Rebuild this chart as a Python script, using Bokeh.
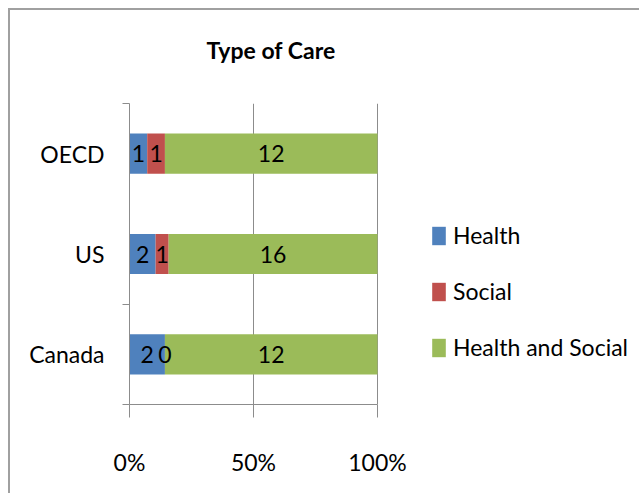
from bokeh.plotting import figure
from bokeh.models import FixedTicker, NumeralTickFormatter, Legend, LegendItem, ColumnDataSource, Title
from bokeh.core.properties import value
from bokeh.embed import file_html
from bokeh.resources import INLINE

# ---- data ----
categories = ["Canada", "US", "OECD"]
series = ["Health", "Social", "Health and Social"]
health = [2, 2, 1]
social = [0, 1, 1]
health_social = [12, 16, 12]
colors = ["#4F81BD", "#C0504D", "#9BBB59"]
x_ticks = [0, 0.5, 1.0]
title_text = "Type of Care"

FONT = "Lato"
GRAY = "#8c8c8c"
FS = "23px"

totals = [h + s + hs for h, s, hs in zip(health, social, health_social)]
ypos = [i + 0.5 for i in range(len(categories))]
frac = {
    "Health": [v / t for v, t in zip(health, totals)],
    "Social": [v / t for v, t in zip(social, totals)],
    "Health and Social": [v / t for v, t in zip(health_social, totals)],
}
raw = {"Health": health, "Social": social, "Health and Social": health_social}

# layout: plot area 0..100% is 248 px wide; the frame continues to the right to hold the legend
W, H = 631, 485
LEFT, RIGHT, TOP, BOTTOM = 119, 8, 93, 91
x_end = (W - LEFT - RIGHT) / 248.0

p = figure(width=W, height=H, output_backend="svg", toolbar_location=None,
           x_range=(0, x_end), y_range=(0, len(categories)),
           min_border_left=LEFT, min_border_top=TOP, min_border_bottom=BOTTOM, min_border_right=RIGHT)
p.styles = {"margin-left": "8px", "margin-top": "8px",
            "border-top": "2px solid #a0a0a0", "border-left": "2px solid #a0a0a0"}
p.outline_line_color = None
p.background_fill_color = "white"
p.border_fill_color = "white"

src = ColumnDataSource(dict(y=ypos, **frac))
renderers = p.hbar_stack(series, y="y", height=0.4, color=colors, source=src, line_color=None)

# data labels
left = [0.0] * len(categories)
for s in series:
    f = frac[s]
    cx = [l + w / 2 for l, w in zip(left, f)]
    p.text(x=cx, y=ypos, text=[str(v) for v in raw[s]], text_align="center",
           text_baseline="middle", text_font=value(FONT), text_font_size=FS,
           text_color="black")
    left = [l + w for l, w in zip(left, f)]

# visible title (outermost slot)
p.title.text = title_text
p.title.align = "left"
p.title.offset = 77
p.title.text_font = FONT
p.title.text_font_size = "23px"
p.title.text_font_style = "bold"
p.title.text_color = "black"
p.title.standoff = 0
# white-on-white spacer between the frame and the title
p.add_layout(Title(text=".", text_font_size="10px", text_color="white", standoff=30), "above")

# x axis
xa = p.xaxis[0]
xa.bounds = (0, 1)
xa.ticker = FixedTicker(ticks=x_ticks)
xa.formatter = NumeralTickFormatter(format="0%")
xa.axis_line_color = GRAY
xa.major_tick_line_color = GRAY
xa.major_tick_in = 0
xa.major_tick_out = 13
xa.minor_tick_line_color = None
xa.major_label_standoff = 30
xa.major_label_text_font = FONT
xa.major_label_text_font_size = FS
xa.major_label_text_color = "black"

# y axis: labels at centers, tick marks at boundaries (as in the reference)
ya = p.yaxis[0]
ya.ticker = FixedTicker(ticks=ypos, minor_ticks=[0, 1, 3])
ya.major_label_overrides = {y: c for y, c in zip(ypos, categories)}
ya.axis_line_color = GRAY
ya.major_tick_line_color = None
ya.major_tick_in = 0
ya.major_tick_out = 7
ya.minor_tick_line_color = GRAY
ya.minor_tick_in = 0
ya.minor_tick_out = 7
ya.major_label_standoff = 18
ya.major_label_text_font = FONT
ya.major_label_text_font_size = FS
ya.major_label_text_color = "black"

p.xgrid.ticker = FixedTicker(ticks=x_ticks)
p.xgrid.grid_line_color = GRAY
p.ygrid.grid_line_color = None

legend = Legend(items=[LegendItem(label=s, renderers=[r]) for s, r in zip(series, renderers)],
                location=(301, 43), margin=0, padding=10, spacing=28,
                glyph_width=17, glyph_height=23, label_height=27, label_standoff=6,
                label_text_font=FONT, label_text_font_size=FS, label_text_color="black",
                border_line_color=None, background_fill_alpha=0)
p.add_layout(legend)

open("out.html", "w").write(file_html(p, INLINE))
